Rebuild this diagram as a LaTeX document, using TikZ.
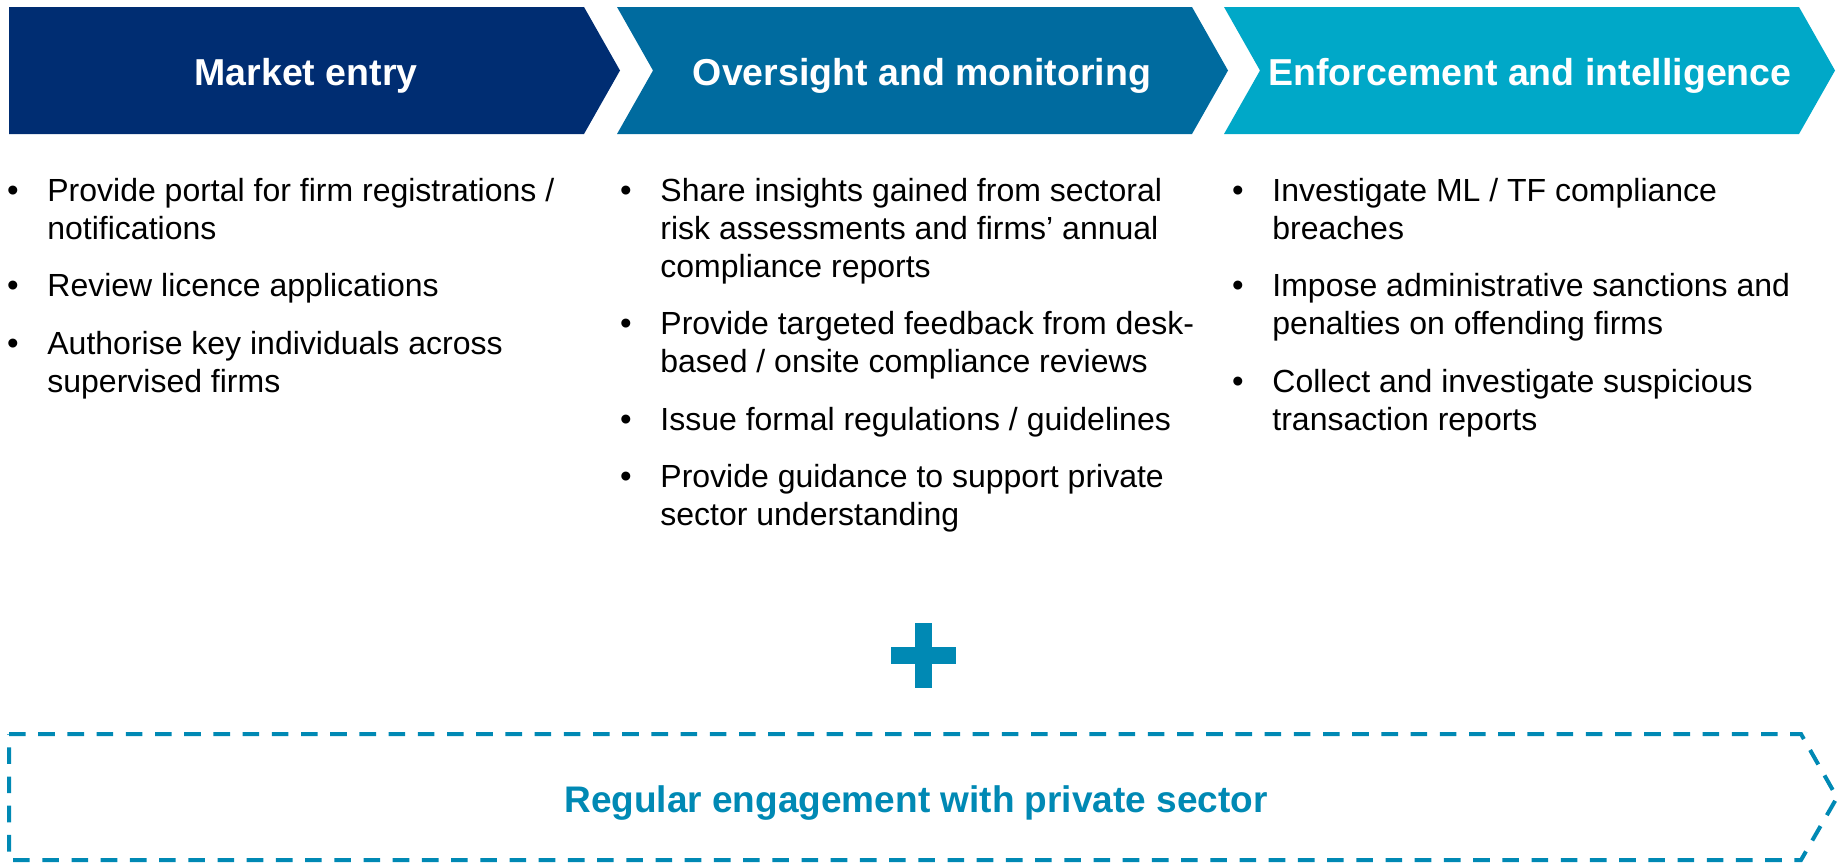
\documentclass[tikz,border=0pt]{standalone}
\usepackage{fontspec}
\setmainfont{Liberation Sans}
\usetikzlibrary{positioning}
\definecolor{ink}{HTML}{000000}
\definecolor{navy}{HTML}{002D72}
\definecolor{sea}{HTML}{006B9F}
\definecolor{sky}{HTML}{00A8C8}
\definecolor{lagoon}{HTML}{0089B4}
\tikzset{
  head/.style={font=\fontsize{18.75}{22}\selectfont\bfseries,text=white,inner sep=0pt,anchor=base},
  itm/.style={font=\fontsize{16}{19}\selectfont,text=ink,align=left,inner sep=0pt},
  dot/.style={font=\fontsize{16.5}{19}\selectfont,text=ink,inner sep=0pt},
  dashedge/.style={draw=lagoon,line width=2pt,dash pattern=on 8.3pt off 6.3pt},
  foot/.style={font=\fontsize{18.5}{22}\selectfont\bfseries,text=lagoon,inner sep=0pt,anchor=base},
}
\begin{document}
\begin{tikzpicture}[x=0.5pt,y=-0.5pt]
  \useasboundingbox (0,0) rectangle (1839,862);
  \foreach \n/\x/\tx/\d/\c/\t in {1/9/306/0/navy/Market entry,2/617/922/36/sea/Oversight and monitoring,3/1224/1530/36/sky/Enforcement and intelligence} {
    \fill[\c] (\x,7) -- (\x+575,7) -- (\x+611,70.5) -- (\x+575,134) -- (\x,134) -- (\x+\d,70.5) -- cycle;
    \node[head] (h\n) at (\tx,85) {\t};
  }
  \node[itm,anchor=north west] (a1) at (47,174.4) {\strut Provide portal for firm registrations /\\notifications\strut};
  \node[itm,below right=9.25pt and 0pt of a1.south west] (a2) {\strut Review licence applications\strut};
  \node[itm,below right=9.25pt and 0pt of a2.south west] (a3) {\strut Authorise key individuals across\\supervised firms\strut};
  \node[itm,anchor=north west] (b1) at (660,174.4) {\strut Share insights gained from sectoral\\risk assessments and firms’ annual\\compliance reports\strut};
  \node[itm,below right=9.25pt and 0pt of b1.south west] (b2) {\strut Provide targeted feedback from desk-\\based / onsite compliance reviews\strut};
  \node[itm,below right=9.25pt and 0pt of b2.south west] (b3) {\strut Issue formal regulations / guidelines\strut};
  \node[itm,below right=9.25pt and 0pt of b3.south west] (b4) {\strut Provide guidance to support private\\sector understanding\strut};
  \node[itm,anchor=north west] (c1) at (1272,174.4) {\strut Investigate ML / TF compliance\\breaches\strut};
  \node[itm,below right=9.25pt and 0pt of c1.south west] (c2) {\strut Impose administrative sanctions and\\penalties on offending firms\strut};
  \node[itm,below right=9.25pt and 0pt of c2.south west] (c3) {\strut Collect and investigate suspicious\\transaction reports\strut};
  \foreach \b in {a1,a2,a3,b1,b2,b3,b4,c1,c2,c3}
    \node[dot,below left=0pt and 14pt of \b.north west] (d\b) {\strut\textbullet};
  \fill[lagoon] (915,623) rectangle (932,688);
  \fill[lagoon] (891,647) rectangle (956,664);
  \draw[dashedge] (9,734) -- (1801,734) -- (1837,797.5) -- (1801,860) -- (9,860) -- cycle;
  \node[foot] (eng) at (916,812) {Regular engagement with private sector};
\end{tikzpicture}
\end{document}
